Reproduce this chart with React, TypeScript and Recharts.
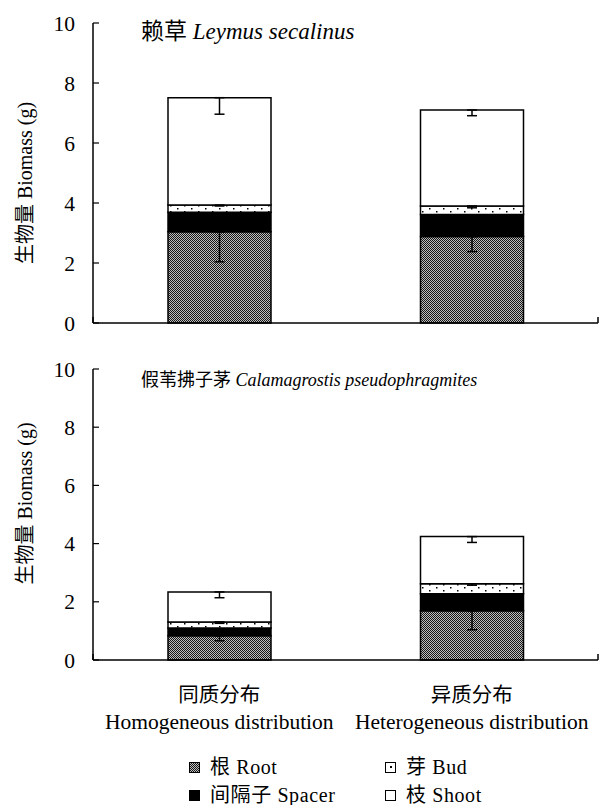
import { Bar, BarChart, ErrorBar, Legend, XAxis, YAxis } from 'recharts';

const FONT = '"Liberation Serif", "Times New Roman", "Noto Sans CJK SC", serif';

const categories = ['同质分布', '异质分布'];
const categoriesEn = ['Homogeneous distribution', 'Heterogeneous distribution'];
const yTicks = [0, 2, 4, 6, 8, 10];
const yMinorTicks = [1, 3, 5, 7, 9];
const boundaryTicks = [0, 1, 2];

// 赖草 Leymus secalinus
const leymusRoot = [3.04, 2.88];
const leymusSpacer = [0.65, 0.74];
const leymusBud = [0.24, 0.28];
const leymusShoot = [3.58, 3.2];
const leymusRootErr = [1.0, 0.5];
const leymusBudErr = [0.03, 0.06];
const leymusShootErr = [0.55, 0.19];

// 假苇拂子茅 Calamagrostis pseudophragmites
const calaRoot = [0.83, 1.69];
const calaSpacer = [0.27, 0.59];
const calaBud = [0.21, 0.34];
const calaShoot = [1.03, 1.62];
const calaRootErr = [0.17, 0.65];
const calaBudErr = [0.05, 0.05];
const calaShootErr = [0.2, 0.2];

const legendItems = [
  { key: 'root', label: '根 Root' },
  { key: 'bud', label: '芽 Bud' },
  { key: 'spacer', label: '间隔子 Spacer' },
  { key: 'shoot', label: '枝 Shoot' },
];

const buildRows = (
  root: number[],
  spacer: number[],
  bud: number[],
  shoot: number[],
  rootErr: number[],
  budErr: number[],
  shootErr: number[]
) =>
  categories.map((name, i) => ({
    name,
    en: categoriesEn[i],
    root: root[i],
    spacer: spacer[i],
    bud: bud[i],
    shoot: shoot[i],
    // minus-only error bars, as in the original figure
    rootErr: [rootErr[i], 0],
    budErr: [budErr[i], 0],
    shootErr: [shootErr[i], 0],
  }));

const leymusData = buildRows(leymusRoot, leymusSpacer, leymusBud, leymusShoot, leymusRootErr, leymusBudErr, leymusShootErr);
const calaData = buildRows(calaRoot, calaSpacer, calaBud, calaShoot, calaRootErr, calaBudErr, calaShootErr);

const Patterns = ({ id }: { id: string }) => (
  <defs>
    <pattern id={`root-${id}`} width="2" height="2" patternUnits="userSpaceOnUse">
      <rect width="2" height="2" fill="#bdbdbd" />
      <rect x="0" y="0" width="1" height="1" fill="#161616" />
      <rect x="1" y="1" width="1" height="1" fill="#161616" />
    </pattern>
    <pattern id={`bud-${id}`} width="14" height="6" patternUnits="userSpaceOnUse">
      <rect width="14" height="6" fill="#fff" />
      <rect x="2" y="1" width="1.5" height="1.5" fill="#000" />
      <rect x="9" y="4" width="1.5" height="1.5" fill="#000" />
    </pattern>
  </defs>
);

const Swatch = ({ kind }: { kind: string }) => {
  const base: React.CSSProperties = {
    width: 9,
    height: 9,
    border: '1.5px solid #000',
    boxSizing: 'content-box',
    position: 'relative',
    display: 'inline-block',
    flex: 'none',
  };
  if (kind === 'root') {
    return (
      <span
        style={{
          ...base,
          background: 'repeating-conic-gradient(#161616 0% 25%, #bdbdbd 0% 50%) 0 0 / 2px 2px',
        }}
      />
    );
  }
  if (kind === 'spacer') return <span style={{ ...base, background: '#000' }} />;
  if (kind === 'bud') {
    return (
      <span style={{ ...base, background: '#fff' }}>
        <span style={{ position: 'absolute', left: 3.5, top: 3.5, width: 2, height: 2, background: '#000' }} />
      </span>
    );
  }
  return <span style={{ ...base, background: '#fff' }} />;
};

const LegendGrid = () => (
  <div style={{ position: 'relative', width: 603, height: 74, fontFamily: FONT, fontSize: 20, color: '#000' }}>
    {legendItems.map((item, i) => {
      const col = i % 2;
      const row = Math.floor(i / 2);
      return (
        <div
          key={item.key}
          style={{
            position: 'absolute',
            left: col === 0 ? 189 : 385,
            top: 27 + row * 28,
            height: 18,
            lineHeight: '18px',
            display: 'flex',
            alignItems: 'center',
            gap: 10,
            whiteSpace: 'nowrap',
          }}
        >
          <Swatch kind={item.key} />
          <span style={{ letterSpacing: 0.6 }}>{item.label}</span>
        </div>
      );
    })}
  </div>
);

const yLabel = (dy: number) => (props: any) => {
  const vb = props.viewBox || {};
  const cy = vb.y + vb.height / 2 + dy;
  return (
    <text
      x={25}
      y={cy}
      transform={`rotate(-90 25 ${cy})`}
      textAnchor="middle"
      dominantBaseline="central"
      fontSize={20}
      fill="#000"
    >
      生物量 Biomass (g)
    </text>
  );
};

const CategoryTick = (props: any) => {
  const { x, y, payload, index } = props;
  return (
    <g>
      <text x={x} y={y + 41} textAnchor="middle" fontSize={20.5} fill="#000">
        {payload.value}
      </text>
      <text x={x} y={y + 68} textAnchor="middle" fontSize={21.5} fill="#000">
        {categoriesEn[index]}
      </text>
    </g>
  );
};

const NoLabel = () => <g />;

interface PanelProps {
  id: string;
  data: any[];
  height: number;
  marginTop: number;
  labelDy: number;
  titleCn: string;
  titleLatin: string;
  titleTop: number;
  titleSize: number;
  withCategories: boolean;
}

function Panel({ id, data, height, marginTop, labelDy, titleCn, titleLatin, titleTop, titleSize, withCategories }: PanelProps) {
  const barStroke = { stroke: '#000', strokeWidth: 1.5 };
  const err = { stroke: '#000', strokeWidth: 1.5, width: 5 };
  return (
    <div style={{ position: 'relative', width: 603, height }}>
      <BarChart
        width={603}
        height={height}
        data={data}
        margin={{ top: marginTop, right: 5, left: 0, bottom: 0 }}
      >
        <Patterns id={id} />
        <YAxis
          yAxisId={0}
          type="number"
          domain={[0, 10]}
          ticks={yTicks}
          interval={0}
          width={93}
          axisLine={{ stroke: '#000', strokeWidth: 1.5 }}
          tickLine={{ stroke: '#000', strokeWidth: 1.2 }}
          tickSize={-6}
          tickMargin={24}
          tick={{ fill: '#000', fontSize: 21.5 }}
          label={yLabel(labelDy)}
        />
        {/* faint minor ticks */}
        <YAxis
          yAxisId={1}
          type="number"
          domain={[0, 10]}
          ticks={yMinorTicks}
          interval={0}
          width={0}
          axisLine={false}
          tickLine={{ stroke: '#c8c8c8', strokeWidth: 1 }}
          tickSize={-4}
          tick={<NoLabel />}
        />
        {/* axis line with ticks at the category boundaries */}
        <XAxis
          xAxisId={0}
          type="number"
          domain={[0, 2]}
          ticks={boundaryTicks}
          interval={0}
          tick={<NoLabel />}
          tickSize={-6}
          height={withCategories ? 1 : 17}
          axisLine={{ stroke: '#000', strokeWidth: 1.5 }}
          tickLine={{ stroke: '#000', strokeWidth: 1.5 }}
        />
        <XAxis
          xAxisId={1}
          dataKey="name"
          hide={!withCategories}
          height={70}
          axisLine={false}
          tickLine={false}
          tickSize={0}
          tickMargin={0}
          interval={0}
          tick={<CategoryTick />}
        />
        <Bar xAxisId={1} yAxisId={0} dataKey="root" stackId="a" barSize={103} fill={`url(#root-${id})`} {...barStroke} isAnimationActive={false}>
          <ErrorBar dataKey="rootErr" {...err} />
        </Bar>
        <Bar xAxisId={1} yAxisId={0} dataKey="spacer" stackId="a" barSize={103} fill="#000" {...barStroke} isAnimationActive={false} />
        <Bar xAxisId={1} yAxisId={0} dataKey="bud" stackId="a" barSize={103} fill={`url(#bud-${id})`} {...barStroke} isAnimationActive={false}>
          <ErrorBar dataKey="budErr" {...err} />
        </Bar>
        <Bar xAxisId={1} yAxisId={0} dataKey="shoot" stackId="a" barSize={103} fill="#fff" {...barStroke} isAnimationActive={false}>
          <ErrorBar dataKey="shootErr" {...err} />
        </Bar>
        {withCategories && (
          <Legend
            verticalAlign="bottom"
            height={74}
            wrapperStyle={{ left: 0, width: 603, height: 74 }}
            content={() => <LegendGrid />}
          />
        )}
      </BarChart>
      <div
        style={{
          position: 'absolute',
          left: 141,
          top: titleTop,
          fontFamily: FONT,
          fontSize: titleSize,
          lineHeight: '24px',
          whiteSpace: 'nowrap',
          color: '#000',
        }}
      >
        {titleCn} <i>{titleLatin}</i>
      </div>
    </div>
  );
}

export default function App() {
  return (
    <div style={{ position: 'absolute', left: 0, top: 0, width: 603, height: 805, background: '#fff', fontFamily: FONT }}>
      <style>{`svg text { font-family: ${FONT}; }`}</style>
      <Panel
        id="ley"
        data={leymusData}
        height={340}
        marginTop={23}
        labelDy={10}
        titleCn="赖草"
        titleLatin="Leymus secalinus"
        titleTop={20}
        titleSize={23}
        withCategories={false}
      />
      <div style={{ position: 'absolute', left: 0, top: 340 }}>
        <Panel
          id="cal"
          data={calaData}
          height={465}
          marginTop={29}
          labelDy={-11}
          titleCn="假苇拂子茅"
          titleLatin="Calamagrostis pseudophragmites"
          titleTop={28}
          titleSize={18}
          withCategories={true}
        />
      </div>
    </div>
  );
}
